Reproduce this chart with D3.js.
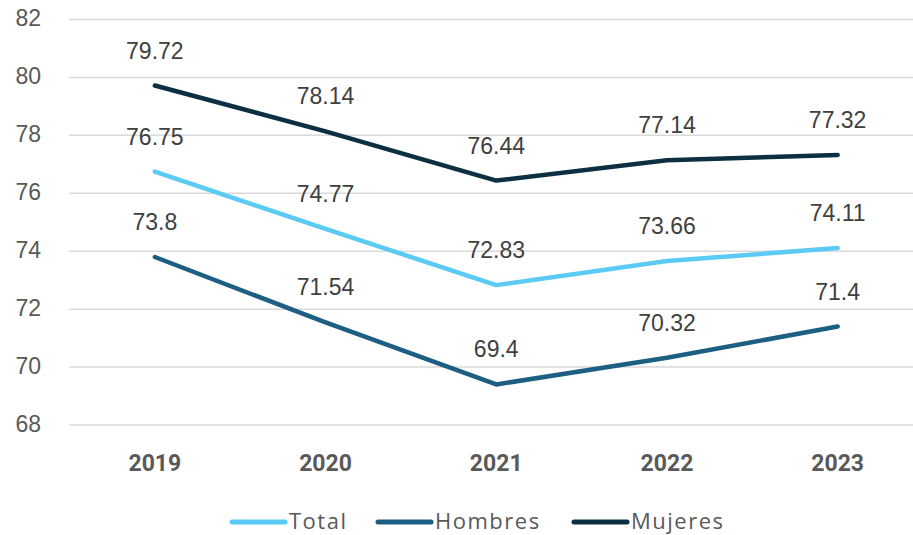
<!DOCTYPE html>
<html><head><meta charset="utf-8">
<script src="https://cdn.jsdelivr.net/npm/d3@7"></script>
<style>body{margin:0;background:#fff}svg{display:block}</style>
</head><body>
<svg id="chart" width="913" height="535"></svg>
<script>
const years = ["2019","2020","2021","2022","2023"];
const total = [76.75, 74.77, 72.83, 73.66, 74.11];
const hombres = [73.8, 71.54, 69.4, 70.32, 71.4];
const mujeres = [79.72, 78.14, 76.44, 77.14, 77.32];
const yTicks = [68,70,72,74,76,78,80,82];
const seriesNames = ["Total","Hombres","Mujeres"];
const seriesColors = ["#5BCBF5","#1C5F82","#0C2F42"];

const series = [
  {name: seriesNames[0], values: total, color: seriesColors[0]},
  {name: seriesNames[1], values: hombres, color: seriesColors[1]},
  {name: seriesNames[2], values: mujeres, color: seriesColors[2]}
];

const svg = d3.select("#chart");
const x = d3.scaleBand().domain(years).range([69.5, 923]);
const y = d3.scaleLinear().domain([68, 82]).range([425, 19.5]);
const cx = d => x(d) + x.bandwidth()/2;

// gridlines
svg.append("g").selectAll("line").data(yTicks).join("line")
  .attr("x1", 69).attr("x2", 913)
  .attr("y1", d => y(d)).attr("y2", d => y(d))
  .attr("stroke", "#d9d9d9").attr("stroke-width", 1.5);

// y tick labels
svg.append("g").selectAll("text").data(yTicks).join("text")
  .attr("x", 41).attr("y", d => y(d) + 6.5)
  .attr("text-anchor", "end")
  .attr("font-family", "Liberation Sans, Arial, sans-serif")
  .attr("font-size", 23).attr("fill", "#595959")
  .text(d => d);

// x labels
svg.append("g").selectAll("text").data(years).join("text")
  .attr("x", d => cx(d)).attr("y", 471)
  .attr("text-anchor", "middle")
  .attr("font-family", "Roboto, sans-serif").attr("font-weight", "bold")
  .attr("font-size", 23).attr("fill", "#595959")
  .text(d => d);

const line = d3.line().x((v,i) => cx(years[i])).y(v => y(v));

series.forEach(s => {
  svg.append("path").datum(s.values)
    .attr("d", line).attr("fill", "none")
    .attr("stroke", s.color).attr("stroke-width", 4.5)
    .attr("stroke-linecap", "round").attr("stroke-linejoin", "round");
});

series.forEach(s => {
  svg.append("g").selectAll("text").data(s.values).join("text")
    .attr("x", (v,i) => cx(years[i])).attr("y", v => y(v) - 27)
    .attr("text-anchor", "middle")
    .attr("font-family", "Liberation Sans, Arial, sans-serif")
    .attr("font-size", 23).attr("fill", "#404040")
    .text(v => v);
});

// legend
const legendX = [230, 376, 572];
const lg = svg.append("g");
series.forEach((s, i) => {
  lg.append("line").attr("x1", legendX[i] + 2).attr("x2", legendX[i] + 55)
    .attr("y1", 522).attr("y2", 522)
    .attr("stroke", s.color).attr("stroke-width", 5).attr("stroke-linecap", "round");
  lg.append("text").attr("x", legendX[i] + 59).attr("y", 528.5)
    .attr("font-family", "Open Sans, sans-serif").attr("font-size", 22)
    .attr("letter-spacing", 1.5)
    .attr("fill", "#595959").text(s.name);
});
</script>
</body></html>
